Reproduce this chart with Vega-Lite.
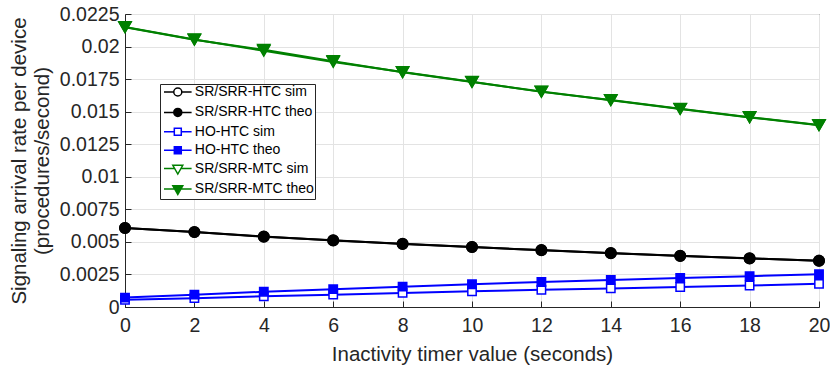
{
  "$schema": "https://vega.github.io/schema/vega-lite/v6.json",
  "width": 694,
  "height": 293,
  "autosize": "none",
  "padding": {"left": 125, "top": 14, "right": 11, "bottom": 60},
  "background": "white",
  "config": {
    "font": "Liberation Sans",
    "view": {"stroke": "#262626", "strokeWidth": 1},
    "axis": {
      "labelFont": "Liberation Sans",
      "titleFont": "Liberation Sans",
      "labelFontSize": 19.5,
      "titleFontSize": 20.5,
      "labelColor": "#262626",
      "titleColor": "#262626",
      "titleFontWeight": "normal",
      "domainColor": "#262626",
      "tickColor": "#262626",
      "gridColor": "#e3e3e3",
      "tickSize": -6,
      "grid": true
    }
  },
  "data": {
    "values": [
      {"t": 0, "v": 0.00606, "s": "SR/SRR-HTC sim"},
      {"t": 2, "v": 0.00575, "s": "SR/SRR-HTC sim"},
      {"t": 4, "v": 0.00541, "s": "SR/SRR-HTC sim"},
      {"t": 6, "v": 0.00511, "s": "SR/SRR-HTC sim"},
      {"t": 8, "v": 0.00485, "s": "SR/SRR-HTC sim"},
      {"t": 10, "v": 0.00460, "s": "SR/SRR-HTC sim"},
      {"t": 12, "v": 0.00437, "s": "SR/SRR-HTC sim"},
      {"t": 14, "v": 0.00413, "s": "SR/SRR-HTC sim"},
      {"t": 16, "v": 0.00393, "s": "SR/SRR-HTC sim"},
      {"t": 18, "v": 0.00373, "s": "SR/SRR-HTC sim"},
      {"t": 20, "v": 0.00355, "s": "SR/SRR-HTC sim"},
      {"t": 0, "v": 0.00055, "s": "HO-HTC sim"},
      {"t": 2, "v": 0.00068, "s": "HO-HTC sim"},
      {"t": 4, "v": 0.00082, "s": "HO-HTC sim"},
      {"t": 6, "v": 0.00095, "s": "HO-HTC sim"},
      {"t": 8, "v": 0.00108, "s": "HO-HTC sim"},
      {"t": 10, "v": 0.00120, "s": "HO-HTC sim"},
      {"t": 12, "v": 0.00132, "s": "HO-HTC sim"},
      {"t": 14, "v": 0.00143, "s": "HO-HTC sim"},
      {"t": 16, "v": 0.00154, "s": "HO-HTC sim"},
      {"t": 18, "v": 0.00165, "s": "HO-HTC sim"},
      {"t": 20, "v": 0.00178, "s": "HO-HTC sim"},
      {"t": 0, "v": 0.02148, "s": "SR/SRR-MTC sim"},
      {"t": 2, "v": 0.02052, "s": "SR/SRR-MTC sim"},
      {"t": 4, "v": 0.01975, "s": "SR/SRR-MTC sim"},
      {"t": 6, "v": 0.01888, "s": "SR/SRR-MTC sim"},
      {"t": 8, "v": 0.01803, "s": "SR/SRR-MTC sim"},
      {"t": 10, "v": 0.01728, "s": "SR/SRR-MTC sim"},
      {"t": 12, "v": 0.01655, "s": "SR/SRR-MTC sim"},
      {"t": 14, "v": 0.01588, "s": "SR/SRR-MTC sim"},
      {"t": 16, "v": 0.01520, "s": "SR/SRR-MTC sim"},
      {"t": 18, "v": 0.01456, "s": "SR/SRR-MTC sim"},
      {"t": 20, "v": 0.01396, "s": "SR/SRR-MTC sim"},
      {"t": 0, "v": 0.00607, "s": "SR/SRR-HTC theo"},
      {"t": 2, "v": 0.00576, "s": "SR/SRR-HTC theo"},
      {"t": 4, "v": 0.00540, "s": "SR/SRR-HTC theo"},
      {"t": 6, "v": 0.00512, "s": "SR/SRR-HTC theo"},
      {"t": 8, "v": 0.00484, "s": "SR/SRR-HTC theo"},
      {"t": 10, "v": 0.00461, "s": "SR/SRR-HTC theo"},
      {"t": 12, "v": 0.00436, "s": "SR/SRR-HTC theo"},
      {"t": 14, "v": 0.00414, "s": "SR/SRR-HTC theo"},
      {"t": 16, "v": 0.00392, "s": "SR/SRR-HTC theo"},
      {"t": 18, "v": 0.00374, "s": "SR/SRR-HTC theo"},
      {"t": 20, "v": 0.00356, "s": "SR/SRR-HTC theo"},
      {"t": 0, "v": 0.00072, "s": "HO-HTC theo"},
      {"t": 2, "v": 0.00095, "s": "HO-HTC theo"},
      {"t": 4, "v": 0.00117, "s": "HO-HTC theo"},
      {"t": 6, "v": 0.00137, "s": "HO-HTC theo"},
      {"t": 8, "v": 0.00156, "s": "HO-HTC theo"},
      {"t": 10, "v": 0.00175, "s": "HO-HTC theo"},
      {"t": 12, "v": 0.00192, "s": "HO-HTC theo"},
      {"t": 14, "v": 0.00208, "s": "HO-HTC theo"},
      {"t": 16, "v": 0.00223, "s": "HO-HTC theo"},
      {"t": 18, "v": 0.00237, "s": "HO-HTC theo"},
      {"t": 20, "v": 0.00252, "s": "HO-HTC theo"},
      {"t": 0, "v": 0.02150, "s": "SR/SRR-MTC theo"},
      {"t": 2, "v": 0.02055, "s": "SR/SRR-MTC theo"},
      {"t": 4, "v": 0.01968, "s": "SR/SRR-MTC theo"},
      {"t": 6, "v": 0.01882, "s": "SR/SRR-MTC theo"},
      {"t": 8, "v": 0.01805, "s": "SR/SRR-MTC theo"},
      {"t": 10, "v": 0.01730, "s": "SR/SRR-MTC theo"},
      {"t": 12, "v": 0.01652, "s": "SR/SRR-MTC theo"},
      {"t": 14, "v": 0.01590, "s": "SR/SRR-MTC theo"},
      {"t": 16, "v": 0.01522, "s": "SR/SRR-MTC theo"},
      {"t": 18, "v": 0.01458, "s": "SR/SRR-MTC theo"},
      {"t": 20, "v": 0.01398, "s": "SR/SRR-MTC theo"}
    ]
  },
  "transform": [{"calculate": "datum.s + ' pt'", "as": "m"}],
  "encoding": {
    "x": {
      "field": "t", "type": "quantitative",
      "scale": {"domain": [0, 20], "nice": false},
      "axis": {"values": [0, 2, 4, 6, 8, 10, 12, 14, 16, 18, 20], "title": "Inactivity timer value (seconds)", "labelPadding": 15, "titlePadding": 10, "labelFlush": false}
    },
    "y": {
      "field": "v", "type": "quantitative",
      "scale": {"domain": [0, 0.0225], "nice": false, "zero": true},
      "axis": {
        "values": [0, 0.0025, 0.005, 0.0075, 0.01, 0.0125, 0.015, 0.0175, 0.02, 0.0225],
        "format": ".4~f",
        "title": ["Signaling arrival rate per device", "(procedures/second)"],
        "titleLineHeight": 23,
        "labelPadding": 12,
        "titlePadding": 7,
        "labelFlush": false
      }
    }
  },
  "layer": [
    {
      "mark": {"type": "line", "strokeWidth": 2},
      "encoding": {
        "detail": {"field": "s"},
        "stroke": {
          "field": "s", "type": "nominal",
          "scale": {
            "domain": ["SR/SRR-HTC sim", "SR/SRR-HTC theo", "HO-HTC sim", "HO-HTC theo", "SR/SRR-MTC sim", "SR/SRR-MTC theo", "SR/SRR-HTC sim pt", "SR/SRR-HTC theo pt", "HO-HTC sim pt", "HO-HTC theo pt", "SR/SRR-MTC sim pt", "SR/SRR-MTC theo pt"],
            "range": ["#000000", "#000000", "#0000ff", "#0000ff", "#008000", "#008000", "#000000", "#000000", "#0000ff", "#0000ff", "#008000", "#008000"]
          }
        }
      }
    },
    {
      "transform": [{"filter": "datum.t == 0"}],
      "mark": {"type": "point", "size": 144, "strokeWidth": 1.5, "opacity": 0},
      "encoding": {
        "stroke": {"field": "s", "type": "nominal"},
        "fill": {
          "field": "s", "type": "nominal",
          "scale": {
            "domain": ["SR/SRR-HTC sim", "SR/SRR-HTC theo", "HO-HTC sim", "HO-HTC theo", "SR/SRR-MTC sim", "SR/SRR-MTC theo", "SR/SRR-HTC sim pt", "SR/SRR-HTC theo pt", "HO-HTC sim pt", "HO-HTC theo pt", "SR/SRR-MTC sim pt", "SR/SRR-MTC theo pt"],
            "range": ["#ffffff", "#000000", "#ffffff", "#0000ff", "#ffffff", "#008000", "#ffffff", "#000000", "#ffffff", "#0000ff", "#ffffff", "#008000"]
          }
        },
        "shape": {
          "field": "s", "type": "nominal",
          "scale": {
            "domain": ["SR/SRR-HTC sim", "SR/SRR-HTC theo", "HO-HTC sim", "HO-HTC theo", "SR/SRR-MTC sim", "SR/SRR-MTC theo", "SR/SRR-HTC sim pt", "SR/SRR-HTC theo pt", "HO-HTC sim pt", "HO-HTC theo pt", "SR/SRR-MTC sim pt", "SR/SRR-MTC theo pt"],
            "range": [
              "M-2.3,0H-0.67M0.67,0H2.3M0.67,0A0.67,0.67 0 1,1 -0.67,0A0.67,0.67 0 1,1 0.67,0Z",
              "M-2.3,0H2.3M0.67,0A0.67,0.67 0 1,1 -0.67,0A0.67,0.67 0 1,1 0.67,0ZM0.45,0A0.45,0.45 0 1,1 -0.45,0A0.45,0.45 0 1,1 0.45,0ZM0.23,0A0.23,0.23 0 1,1 -0.23,0A0.23,0.23 0 1,1 0.23,0ZM0.06,0A0.06,0.06 0 1,1 -0.06,0A0.06,0.06 0 1,1 0.06,0Z",
              "M-2.3,0H-0.58M0.58,0H2.3M-0.58,-0.58H0.58V0.58H-0.58Z",
              "M-2.3,0H2.3M-0.58,-0.58H0.58V0.58H-0.58ZM-0.36,-0.36H0.36V0.36H-0.36ZM-0.14,-0.14H0.14V0.14H-0.14Z",
              "M-2.3,0H-0.515M0.515,0H2.3M-0.83,-0.55H0.83L0,0.9Z",
              "M-2.3,0H2.3M-0.83,-0.55H0.83L0,0.9ZM-0.581,-0.405H0.581L0,0.61ZM-0.332,-0.26H0.332L0,0.32ZM-0.083,-0.115H0.083L0,0.03Z",
              "circle", "circle", "square", "square", "triangle-down", "triangle-down"
            ]
          },
          "legend": {
            "values": ["SR/SRR-HTC sim", "SR/SRR-HTC theo", "HO-HTC sim", "HO-HTC theo", "SR/SRR-MTC sim", "SR/SRR-MTC theo"],
            "orient": "none", "legendX": 35, "legendY": 70, "title": null,
            "fillColor": "white", "strokeColor": "#262626", "padding": 1,
            "symbolSize": 144, "symbolOffset": 9.8, "symbolStrokeWidth": 1.5, "symbolOpacity": 1,
            "labelFontSize": 14, "labelFont": "Liberation Sans", "labelColor": "#000000",
            "labelOffset": 10, "rowPadding": 4.4
          }
        }
      }
    },
    {
      "transform": [{"filter": "indexof(datum.s, 'HO-HTC') >= 0"}],
      "mark": {"type": "point", "size": 70, "strokeWidth": 1.5, "opacity": 1},
      "encoding": {
        "stroke": {"field": "m", "type": "nominal"},
        "fill": {"field": "m", "type": "nominal"},
        "shape": {"field": "m", "type": "nominal"}
      }
    },
    {
      "transform": [{"filter": "indexof(datum.s, 'SR/SRR-HTC') >= 0"}],
      "mark": {"type": "point", "size": 110, "strokeWidth": 1.5, "opacity": 1},
      "encoding": {
        "stroke": {"field": "m", "type": "nominal"},
        "fill": {"field": "m", "type": "nominal"},
        "shape": {"field": "m", "type": "nominal"}
      }
    },
    {
      "transform": [{"filter": "indexof(datum.s, 'MTC') >= 0"}],
      "mark": {"type": "point", "size": 150, "strokeWidth": 1.5, "opacity": 1},
      "encoding": {
        "stroke": {"field": "m", "type": "nominal"},
        "fill": {"field": "m", "type": "nominal"},
        "shape": {"field": "m", "type": "nominal"}
      }
    }
  ]
}
